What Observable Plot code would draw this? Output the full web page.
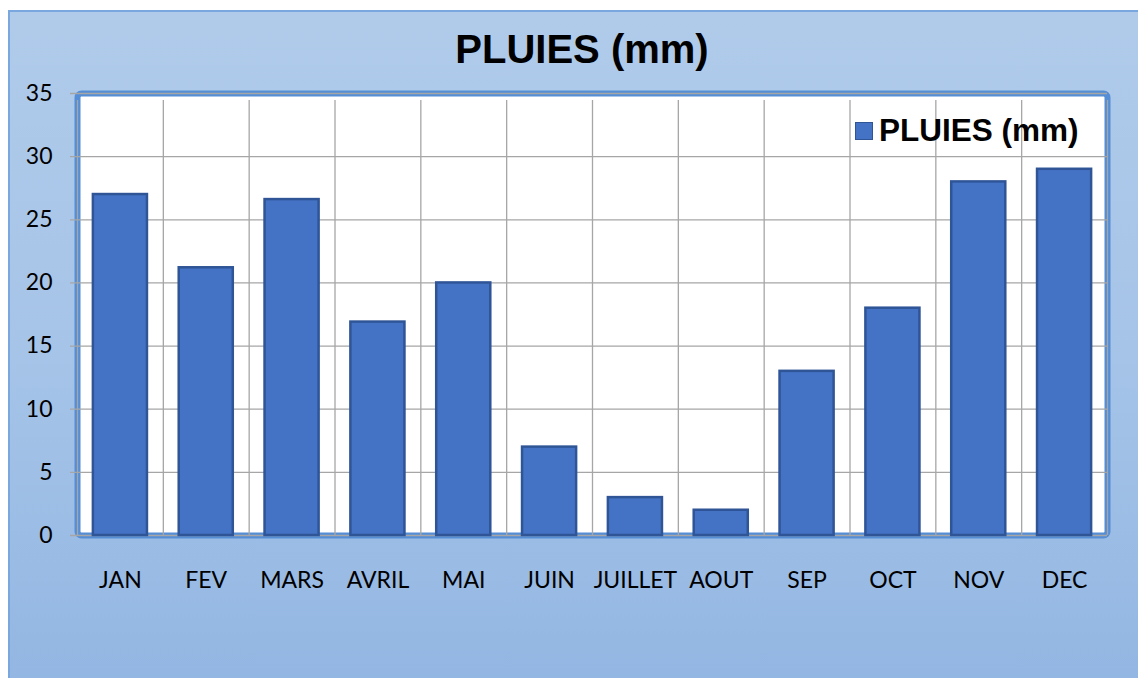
<!DOCTYPE html>
<html>
<head>
<meta charset="utf-8">
<script src="https://cdn.jsdelivr.net/npm/d3@7"></script>
<script src="https://cdn.jsdelivr.net/npm/@observablehq/plot@0.6"></script>
<style>
  html, body { margin: 0; padding: 0; background: #fff; }
  #wrap { position: relative; width: 1138px; height: 678px; overflow: hidden; }
  #bg { position: absolute; left: 8px; top: 10px; width: 1140px; height: 680px;
        border-left: 2px solid #7aa7dd; border-top: 2px solid #7aa7dd;
        background: linear-gradient(to bottom, #b0cbea 0%, #a6c4e8 50%, #92b6e2 100%); }
  #chart { position: absolute; left: 0; top: 0; }
  #title { position: absolute; left: 0; width: 1164px; top: 27px; text-align: center;
           font-family: "Liberation Sans", Arial, sans-serif; font-weight: bold; font-size: 40px; color: #000; }
  #legend { position: absolute; left: 855px; top: 112px; display: flex; align-items: center;
            font-family: "Liberation Sans", Arial, sans-serif; font-weight: bold; font-size: 31.5px; color: #000; }
  #legend .sw { width: 16px; height: 16px; background: #4472c4; border: 1.5px solid #2f5597; margin-right: 6px; }
</style>
</head>
<body>
<div id="wrap">
  <div id="bg"></div>
  <div id="chart"></div>
  <div id="title">PLUIES (mm)</div>
  <div id="legend"><div class="sw"></div><span>PLUIES (mm)</span></div>
</div>
<script>
const months = ["JAN","FEV","MARS","AVRIL","MAI","JUIN","JUILLET","AOUT","SEP","OCT","NOV","DEC"];
const rain = [27, 21.2, 26.6, 16.9, 20, 7, 3, 2, 13, 18, 28, 29];
const yTicks = [0, 5, 10, 15, 20, 25, 30, 35];

const data = months.map((m, i) => ({month: m, rain: rain[i]}));

const W = 1138, H = 678, mL = 77, mR = 31, mT = 93, mB = 143;
const step = (W - mL - mR) / months.length;
const grid = "#a6a6a6";

const plot = Plot.plot({
  width: W, height: H,
  marginLeft: mL, marginRight: mR, marginTop: mT, marginBottom: mB,
  style: {background: "transparent", fontFamily: "Lato, 'Open Sans', sans-serif", color: "#000"},
  x: {domain: months, paddingInner: 0.37, paddingOuter: 0.185, round: false},
  y: {domain: [0, 35]},
  marks: [
    Plot.frame({fill: "white", stroke: "#558ed5", strokeWidth: 6, rx: 4}),
    Plot.ruleY(yTicks, {stroke: grid, strokeWidth: 1.3, insetLeft: -7}),
    Plot.ruleX(months, {x: d => d, y1: 0, y2: 35, dx: step / 2, stroke: grid, strokeWidth: 1.3, insetBottom: -7}),
    Plot.ruleX([months[0]], {x: d => d, y1: 0, y2: 35, dx: -step / 2, stroke: grid, strokeWidth: 1.3, insetBottom: -7}),
    Plot.barY(data, {x: "month", y: "rain", fill: "#4472c4", stroke: "#2f5597", strokeWidth: 2.5}),
    Plot.axisY(yTicks, {tickSize: 0, tickPadding: 25, fontSize: 23, label: null}),
    Plot.axisX({tickSize: 0, tickPadding: 36, fontSize: 23, label: null})
  ]
});
document.getElementById("chart").appendChild(plot);
</script>
</body>
</html>
